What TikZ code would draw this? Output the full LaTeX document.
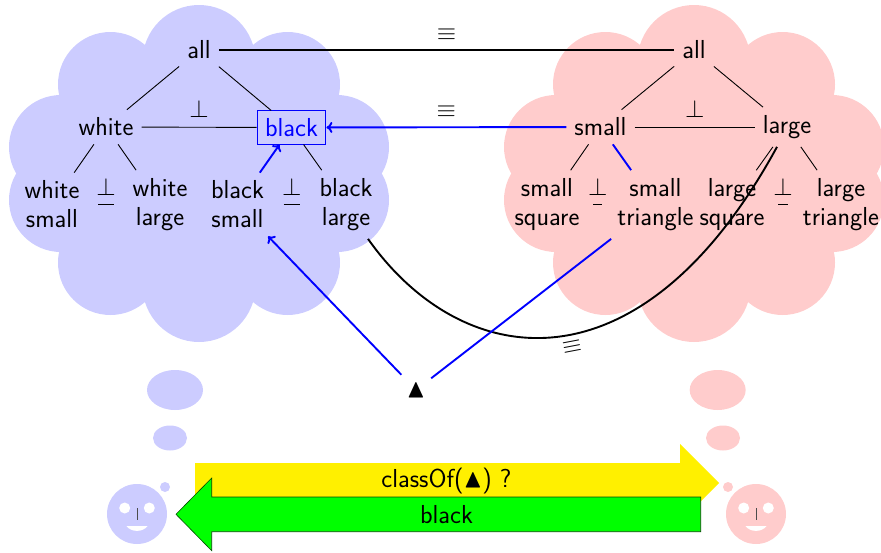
\documentclass[tikz,border=0pt]{standalone}
\usepackage{amssymb}
\usepackage{fontspec}
\setsansfont{Latin Modern Sans}
\usetikzlibrary{arrows.meta}
\definecolor{cloudblue}{RGB}{204,204,255}
\definecolor{cloudred}{RGB}{255,204,204}
\definecolor{msgyellow}{RGB}{255,240,0}
\definecolor{msggreen}{RGB}{0,255,0}
\newcommand{\mycloud}[2]{%
  \begin{scope}[xshift=#1pt]
  \foreach \cx/\cy/\cr in {199/61.5/56.5,199/285.5/56.5,110.4/84.4/52.4,287.6/84.4/52.4,110.4/262.6/52.4,287.6/262.6/52.4,61/147/52,61/200/52,337/147/52,337/200/52}
    \fill[#2] (\cx,\cy) circle (\cr);
  \fill[#2] (60,100) rectangle (338,247);
  \fill[#2] (110,60) rectangle (288,287);
  \end{scope}}
\newcommand{\myface}[2]{%
  \fill[#2] (#1,514) circle (30);
  \fill[white] (#1-12.3,508) circle (5.5);
  \fill[white] (#1+12.3,508) circle (5.5);
  \fill[white] (#1-10.5,526) .. controls (#1-6,532.5) and (#1+6,532.5) .. (#1+10.5,526) -- cycle;
  \draw[line width=0.8,black!70] (#1,508) -- (#1,520);}
\tikzset{
  lab/.style={font=\sffamily\fontsize{26}{29}\selectfont,align=center,inner sep=8pt,text=black},
  leaf/.style={lab,minimum width=92pt},
  wideleaf/.style={lab,minimum width=106pt},
  thinln/.style={line width=0.9pt},
  thickln/.style={line width=1.9pt},
  bluethick/.style={thickln,blue},
  tip/.style={-{Computer Modern Rightarrow[length=6pt,width=11pt]}},
  perplab/.style={midway,anchor=south,inner sep=0pt,yshift=9pt,font=\fontsize{24}{29}\selectfont},
  eqlab/.style={midway,anchor=south,inner sep=0pt,yshift=9pt,font=\fontsize{24}{29}\selectfont},
}
\begin{document}
\begin{tikzpicture}[x=1pt,y=-1pt]
\useasboundingbox (0,0) rectangle (881,552);
\clip (0,0) rectangle (881,552);
\mycloud{0}{cloudblue}
\mycloud{495}{cloudred}
% thought bubbles
\fill[cloudblue] (175,390) ellipse [x radius=28,y radius=20];
\fill[cloudblue] (170,438) ellipse [x radius=17,y radius=12.5];
\fill[cloudblue] (165,487) circle (5);
\fill[cloudred] (717.7,390) ellipse [x radius=28,y radius=20];
\fill[cloudred] (723,438) ellipse [x radius=17,y radius=12.5];
\fill[cloudred] (728,487) circle (5);
\myface{137}{cloudblue}
\myface{756}{cloudred}
% message arrows
\fill[msgyellow] (195,463) -- (680,463) -- (680,444) -- (719,483) -- (680,522) -- (680,503) -- (195,503) -- cycle;
\node[lab,inner sep=0pt] (question) at (446.5,481) {classOf($\blacktriangle$) ?};
\filldraw[fill=msggreen,draw=black!70!green,line width=0.6pt] (700.7,497) -- (211.7,497) -- (211.7,478) -- (176,514.3) -- (211.7,550.7) -- (211.7,531.7) -- (700.7,531.7) -- cycle;
\node[lab,inner sep=0pt] (answer) at (446.5,514.3) {black};
% left tree
\node[lab] (lall) at (199,50) {all};
\node[lab] (lwhite) at (106,127) {white};
\node[lab,draw=blue,line width=0.9pt,text=blue,inner xsep=8pt,inner ysep=7.5pt] (lblack) at (291.5,127.5) {black};
\node[leaf] (lws) at (52,204.5) {white\\small};
\node[leaf] (lwl) at (160,204.5) {white\\large};
\node[leaf] (lbs) at (237.5,204.5) {black\\small};
\node[leaf] (lbl) at (346,204.5) {black\\large};
% right tree
\node[lab] (rall) at (694,50) {all};
\node[lab] (rsmall) at (600.5,127) {small};
\node[lab] (rlarge) at (787,127) {large};
\node[leaf] (rss) at (547,204.5) {small\\square};
\node[wideleaf] (rst) at (655.5,204.5) {small\\triangle};
\node[leaf] (rls) at (732,204.5) {large\\square};
\node[wideleaf] (rlt) at (841,204.5) {large\\triangle};
\node[lab,inner sep=0pt,minimum width=30pt,minimum height=30pt] (tri) at (416,390) {$\blacktriangle$};
% tree edges
\draw[thinln] (lall) -- (lwhite);
\draw[thinln] (lall) -- (lblack);
\draw[thinln] (lwhite) -- (lws);
\draw[thinln] (lwhite) -- (lwl);
\draw[thinln] (lblack) -- (lbl);
\draw[bluethick,tip] (lbs) -- (lblack);
\draw[thinln] (rall) -- (rsmall);
\draw[thinln] (rall) -- (rlarge);
\draw[thinln] (rsmall) -- (rss);
\draw[bluethick] (rsmall) -- (rst);
\draw[thinln] (rlarge) -- (rls);
\draw[thinln] (rlarge) -- (rlt);
% disjointness
\draw[thinln] (lwhite) -- node[perplab] {$\perp$} (lblack);
\draw[thinln] (lws) -- node[perplab] {$\perp$} (lwl);
\draw[thinln] (lbs) -- node[perplab] {$\perp$} (lbl);
\draw[thinln] (rsmall) -- node[perplab] {$\perp$} (rlarge);
\draw[thinln] (rss) -- node[perplab] {$\perp$} (rst);
\draw[thinln] (rls) -- node[perplab] {$\perp$} (rlt);
% equivalences
\draw[thickln] (lall) -- node[eqlab] {$\equiv$} (rall);
\draw[bluethick,tip] (rsmall) -- node[eqlab,text=black] {$\equiv$} (lblack);
\draw[thickln] ([xshift=22pt]lbl.south) .. controls (462,372) and (640,398) .. node[pos=0.53,sloped,below,inner sep=6pt,font=\fontsize{24}{29}\selectfont] {$\equiv$} ([xshift=-10pt]rlarge.south);
% triangle
\draw[bluethick,tip] (tri) -- (lbs);
\draw[bluethick] (tri) -- (rst);
\end{tikzpicture}
\end{document}
